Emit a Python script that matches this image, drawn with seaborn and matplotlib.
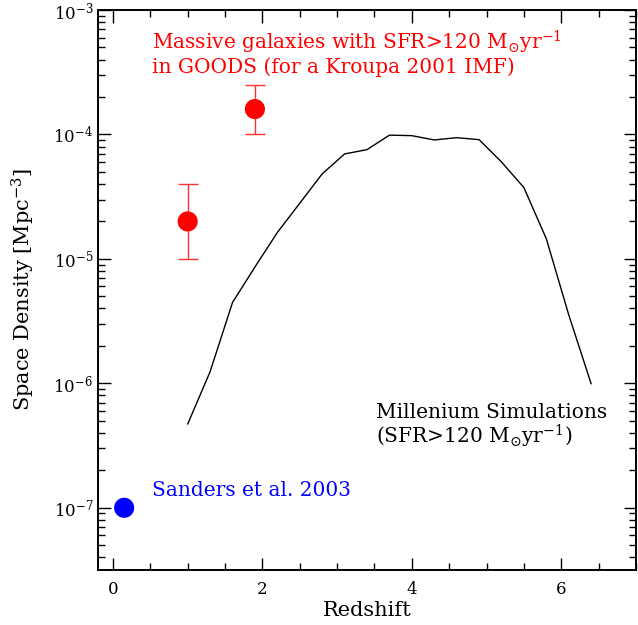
import numpy as np
import pandas as pd
import matplotlib
matplotlib.use("Agg")
import matplotlib.pyplot as plt
import matplotlib.ticker as mticker
import seaborn as sns

# Millennium simulation curve
sim_z = [1.0, 1.3, 1.6, 1.9, 2.2, 2.5, 2.8, 3.1, 3.4, 3.7, 4.0, 4.3, 4.6, 4.9,
         5.2, 5.5, 5.8, 6.1, 6.4]
sim_density = [4.7e-7, 1.24e-6, 4.46e-6, 8.6e-6, 1.63e-5, 2.8e-5, 4.82e-5,
               6.97e-5, 7.55e-5, 9.87e-5, 9.78e-5, 9.03e-5, 9.42e-5, 9.08e-5,
               6.01e-5, 3.74e-5, 1.45e-5, 3.55e-6, 9.9e-7]

# GOODS massive galaxies
goods_z = [1.0, 1.9]
goods_density = [2.0e-5, 1.6e-4]
goods_low = [1.0e-5, 1.0e-4]
goods_high = [4.0e-5, 2.5e-4]

# Sanders et al. 2003
sanders_z = [0.15]
sanders_density = [1.0e-7]

sns.set_style("ticks")
plt.rcParams["font.family"] = ["DejaVu Serif"]
plt.rcParams["mathtext.fontset"] = "dejavuserif"
plt.rcParams["text.color"] = "black"
plt.rcParams["axes.labelcolor"] = "black"
plt.rcParams["xtick.color"] = "black"
plt.rcParams["ytick.color"] = "black"
plt.rcParams["axes.edgecolor"] = "black"

W, H = 638, 625
fig = plt.figure(figsize=(W / 100, H / 100), dpi=100)
ax = fig.add_axes([98 / W, 1 - 570 / H, (636 - 98) / W, (570 - 10) / H])

sim = pd.DataFrame({"z": sim_z, "n": sim_density})
sns.lineplot(data=sim, x="z", y="n", color="black", lw=1.0, ax=ax)

yerr = [np.array(goods_density) - np.array(goods_low),
        np.array(goods_high) - np.array(goods_density)]
ax.errorbar(goods_z, goods_density, yerr=yerr, fmt="none", ecolor="#ff3030",
            elinewidth=1.0, capsize=7, capthick=1.0)
sns.scatterplot(x=goods_z, y=goods_density, color="red", s=210,
                edgecolor="none", ax=ax, zorder=3)
sns.scatterplot(x=sanders_z, y=sanders_density, color="blue", s=210,
                edgecolor="none", ax=ax, zorder=3)

ax.set_yscale("log")
ax.set_xlim(-0.2, 7.0)
ax.set_ylim(10**-7.5, 1e-3)
ax.xaxis.set_major_locator(mticker.MultipleLocator(2))
ax.xaxis.set_minor_locator(mticker.MultipleLocator(0.5))
ax.yaxis.set_major_locator(mticker.LogLocator(base=10, numticks=10))
ax.yaxis.set_minor_locator(mticker.LogLocator(base=10, subs=np.arange(2, 10), numticks=10))
ax.yaxis.set_minor_formatter(mticker.NullFormatter())

ax.tick_params(which="both", direction="in", top=True, right=True, labelsize=12)
ax.tick_params(which="major", length=9, width=1.0)
ax.tick_params(which="minor", length=5, width=1.0)
ax.tick_params(axis="x", pad=8)
for s in ax.spines.values():
    s.set_linewidth(1.4)

ax.set_xlabel("Redshift", fontsize=15, labelpad=2)
ax.set_ylabel("Space Density [Mpc$^{-3}$]", fontsize=15, labelpad=12)


def px_text(x, y, s, color):
    fig.text(x / W, 1 - y / H, s, color=color, fontsize=14.5,
             ha="left", va="baseline")


px_text(152, 49, "Massive galaxies with SFR>120 M$_{\\odot}$yr$^{-1}$", "red")
px_text(152, 73, "in GOODS (for a Kroupa 2001 IMF)", "red")
px_text(376, 418, "Millenium Simulations", "black")
px_text(376, 443, "(SFR>120 M$_{\\odot}$yr$^{-1}$)", "black")
px_text(152, 496, "Sanders et al. 2003", "blue")

fig.savefig("out.png", dpi=100)
